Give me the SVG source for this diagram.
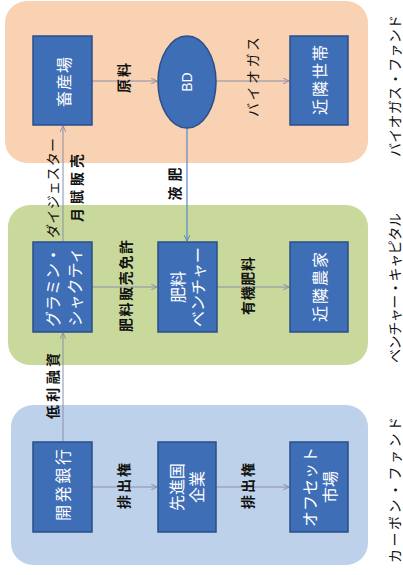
<svg xmlns="http://www.w3.org/2000/svg" width="403" height="575" viewBox="0 0 403 575">
<style>
text{font-family:"Noto Sans CJK JP","Noto Sans",sans-serif;text-anchor:middle;dominant-baseline:central}
.node{fill:#3E6EB6;stroke:#2B4E88;stroke-width:1.5}
.nt{fill:#fff;font-size:16px}
.lb{fill:#111;font-size:14px;font-weight:bold}
.sec{fill:#111;font-size:14px}
.ln{stroke:#8a8fa8;stroke-width:1;fill:none}
.lnb{stroke:#5A86C8;stroke-width:1.2;fill:none}
</style>
<defs>
<marker id="ah" markerWidth="7" markerHeight="6" refX="6" refY="3" orient="auto" markerUnits="userSpaceOnUse">
<path d="M0,0 L6,3 L0,6" fill="none" stroke="#8a8fa8" stroke-width="1"/>
</marker>
<marker id="ahb" markerWidth="7" markerHeight="6" refX="6" refY="3" orient="auto" markerUnits="userSpaceOnUse">
<path d="M0,0 L6,3 L0,6" fill="none" stroke="#5A86C8" stroke-width="1"/>
</marker>
</defs>
<rect width="403" height="575" fill="#fff"/>
<g id="panel-biogas">
<rect x="5" y="1" width="363" height="162" rx="22" fill="#F9D2B3"/>
<text class="sec" transform="rotate(-90 394 86)" x="394" y="86" textLength="142" lengthAdjust="spacing">バイオガス・ファンド</text>
</g>
<g id="panel-venture">
<rect x="8" y="205" width="360" height="160" rx="22" fill="#C9D99C"/>
<text class="sec" transform="rotate(-90 394 288)" x="394" y="288" textLength="150" lengthAdjust="spacing">ベンチャー・キャピタル</text>
</g>
<g id="panel-carbon">
<rect x="11" y="405" width="357" height="160" rx="22" fill="#BED1EA"/>
<text class="sec" transform="rotate(-90 394 490)" x="394" y="490" textLength="146" lengthAdjust="spacing">カーボン・ファンド</text>
</g>
<g id="connectors">
<line class="ln" x1="92" y1="81" x2="157" y2="81" marker-end="url(#ah)"/>
<line class="ln" x1="216" y1="81" x2="289" y2="81" marker-end="url(#ah)"/>
<line class="ln" x1="92" y1="287" x2="157" y2="287" marker-end="url(#ah)"/>
<line class="ln" x1="217" y1="287" x2="289" y2="287" marker-end="url(#ah)"/>
<line class="ln" x1="92" y1="487" x2="157" y2="487" marker-end="url(#ah)"/>
<line class="ln" x1="216" y1="487" x2="289" y2="487" marker-end="url(#ah)"/>
<line class="ln" x1="63" y1="442" x2="63" y2="333" marker-end="url(#ah)"/>
<line class="ln" x1="63" y1="242" x2="63" y2="126" marker-end="url(#ah)"/>
<line class="lnb" x1="187" y1="128" x2="187" y2="241" marker-end="url(#ahb)"/>
<text class="lb" transform="rotate(-90 123 78)" x="123" y="78" textLength="30" lengthAdjust="spacing">原料</text>
<text class="lb" style="font-weight:normal" transform="rotate(-90 252 77)" x="252" y="77" textLength="80" lengthAdjust="spacing">バイオガス</text>
<text class="lb" transform="rotate(-90 125 286)" x="125" y="286" textLength="92" lengthAdjust="spacing">肥料販売免許</text>
<text class="lb" transform="rotate(-90 247 286)" x="247" y="286" textLength="58" lengthAdjust="spacing">有機肥料</text>
<text class="lb" transform="rotate(-90 123 486)" x="123" y="486" textLength="46" lengthAdjust="spacing">排出権</text>
<text class="lb" transform="rotate(-90 247 486)" x="247" y="486" textLength="46" lengthAdjust="spacing">排出権</text>
<text class="lb" transform="rotate(-90 174 184)" x="174" y="184" textLength="33" lengthAdjust="spacing">液肥</text>
<text class="lb" transform="rotate(-90 52 386)" x="52" y="386" textLength="66" lengthAdjust="spacing">低利融資</text>
<text class="lb" style="font-weight:normal" transform="rotate(-90 52 188)" x="52" y="188" textLength="100" lengthAdjust="spacing">ダイジェスター</text>
<text class="lb" transform="rotate(-90 76 188)" x="76" y="188" textLength="68" lengthAdjust="spacing">月賦販売</text>
</g>
<g id="n-chikusanjo">
<rect class="node" x="33" y="36" width="59" height="89"/>
<text class="nt" transform="rotate(-90 62.5 82)" x="62.5" y="82" textLength="50" lengthAdjust="spacing">畜産場</text>
</g>
<g id="n-bd">
<ellipse class="node" cx="187" cy="82" rx="29" ry="46"/>
<text class="nt" style="font-family:'Liberation Sans',sans-serif;font-size:14px" transform="rotate(-90 187 82)" x="187" y="82">BD</text>
</g>
<g id="n-kinrin-setai">
<rect class="node" x="290" y="36" width="58" height="89"/>
<text class="nt" transform="rotate(-90 319 80)" x="319" y="80" textLength="70" lengthAdjust="spacing">近隣世帯</text>
</g>
<g id="n-grameen">
<rect class="node" x="33" y="242" width="59" height="90"/>
<text class="nt" transform="rotate(-90 52 287)" x="52" y="287">グラミン・</text>
<text class="nt" transform="rotate(-90 74 287)" x="74" y="287">シャクティ</text>
</g>
<g id="n-hiryo">
<rect class="node" x="158" y="242" width="59" height="90"/>
<text class="nt" transform="rotate(-90 177 287)" x="177" y="287">肥料</text>
<text class="nt" transform="rotate(-90 197 287)" x="197" y="287">ベンチャー</text>
</g>
<g id="n-kinrin-noka">
<rect class="node" x="290" y="242" width="58" height="90"/>
<text class="nt" transform="rotate(-90 319 287)" x="319" y="287" textLength="70" lengthAdjust="spacing">近隣農家</text>
</g>
<g id="n-kaihatsu">
<rect class="node" x="33" y="442" width="59" height="90"/>
<text class="nt" transform="rotate(-90 62 485)" x="62" y="485" textLength="72" lengthAdjust="spacing">開発銀行</text>
</g>
<g id="n-senshinkoku">
<rect class="node" x="158" y="442" width="58" height="90"/>
<text class="nt" transform="rotate(-90 176 487)" x="176" y="487">先進国</text>
<text class="nt" transform="rotate(-90 196 487)" x="196" y="487">企業</text>
</g>
<g id="n-offset">
<rect class="node" x="290" y="442" width="58" height="90"/>
<text class="nt" transform="rotate(-90 309 487)" x="309" y="487">オフセット</text>
<text class="nt" transform="rotate(-90 329 487)" x="329" y="487">市場</text>
</g>
</svg>
